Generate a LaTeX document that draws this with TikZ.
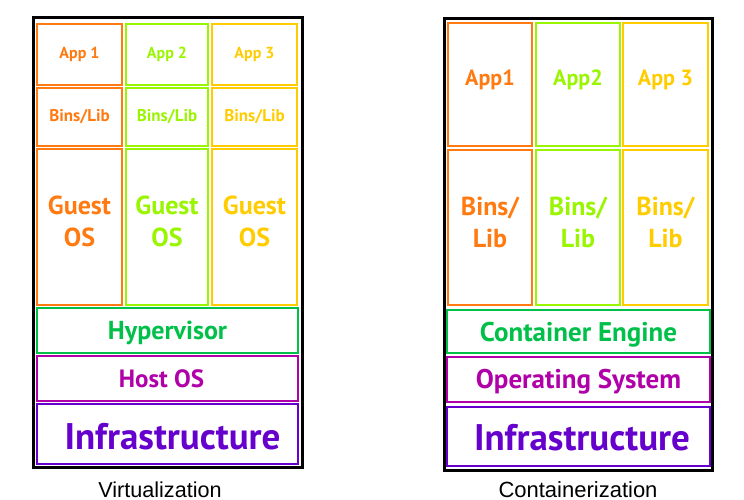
\documentclass[tikz,border=0pt]{standalone}
\usepackage{fontspec}
\setmainfont{PT Sans}
\newfontfamily\capfont{Liberation Sans}
\definecolor{cOrange}{HTML}{FF7A10}
\definecolor{cLime}{HTML}{99F500}
\definecolor{cYellow}{HTML}{FFCC00}
\definecolor{cGreen}{HTML}{00C04A}
\definecolor{cMagenta}{HTML}{B000A8}
\definecolor{cPurple}{HTML}{6600CC}
\newcommand\fsz[2]{\fontsize{#1}{#2}\selectfont}
\begin{document}
\begin{tikzpicture}[x=1pt,y=-1pt,
  outerbox/.style={draw=black,line width=3pt,inner sep=0pt,outer sep=0pt},
  layer/.style={draw=#1,text=#1,line width=2pt,inner sep=0pt,outer sep=0pt,align=center,font=\bfseries},
  caption/.style={font=\capfont\fsz{21.6}{26},anchor=base,inner sep=0pt}]
\useasboundingbox (0,0) rectangle (744,500);
% ---------- Virtualization ----------
\node[outerbox,minimum width=269pt,minimum height=449pt] (vout) at (167.5,242.5) {};
\node[layer=cOrange,minimum width=85pt,minimum height=61pt,font=\bfseries\fsz{16}{20}] (va1) at (79.5,54.5) {App 1};
\node[layer=cLime,minimum width=82pt,minimum height=61pt,font=\bfseries\fsz{16}{20}] (va2) at (167,54.5) {App 2};
\node[layer=cYellow,minimum width=85pt,minimum height=61pt,font=\bfseries\fsz{16}{20}] (va3) at (254.5,54.5) {App 3};
\node[layer=cOrange,minimum width=85pt,minimum height=58pt,font=\bfseries\fsz{17}{20}] (vb1) at (79.5,117) {Bins/Lib};
\node[layer=cLime,minimum width=82pt,minimum height=58pt,font=\bfseries\fsz{17}{20}] (vb2) at (167,117) {Bins/Lib};
\node[layer=cYellow,minimum width=85pt,minimum height=58pt,font=\bfseries\fsz{17}{20}] (vb3) at (254.5,117) {Bins/Lib};
\node[layer=cOrange,minimum width=85pt,minimum height=156pt,font=\bfseries\fsz{26}{32},text depth=12pt] (vg1) at (79.5,227) {Guest\\OS};
\node[layer=cLime,minimum width=82pt,minimum height=156pt,font=\bfseries\fsz{26}{32},text depth=12pt] (vg2) at (167,227) {Guest\\OS};
\node[layer=cYellow,minimum width=85pt,minimum height=156pt,font=\bfseries\fsz{26}{32},text depth=12pt] (vg3) at (254.5,227) {Guest\\OS};
\node[layer=cGreen,minimum width=261pt,minimum height=45pt,font=\bfseries\fsz{26}{28},text height=24pt] (vhyp) at (167.5,330.5) {Hypervisor};
\node[layer=cMagenta,minimum width=261pt,minimum height=45pt,font=\bfseries\fsz{25}{28}] (vhost) at (167.5,378.5) {Host OS\hspace*{12pt}};
\node[layer=cPurple,minimum width=261pt,minimum height=60pt,font=\bfseries\fsz{37}{40},text height=31pt] (vinf) at (167.5,434) {\hspace*{10pt}Infrastructure};
\node[caption] (vcap) at (160,497) {Virtualization};
% ---------- Containerization ----------
\node[outerbox,minimum width=268pt,minimum height=451pt] (cout) at (578,244.5) {};
\node[layer=cOrange,minimum width=84pt,minimum height=123pt,font=\bfseries\fsz{22}{26},text depth=13pt] (ca1) at (490,84.5) {App1};
\node[layer=cLime,minimum width=84pt,minimum height=123pt,font=\bfseries\fsz{22}{26},text depth=13pt] (ca2) at (578,84.5) {App2};
\node[layer=cYellow,minimum width=85pt,minimum height=123pt,font=\bfseries\fsz{22}{26},text depth=14pt] (ca3) at (665.5,84.5) {App 3};
\node[layer=cOrange,minimum width=84pt,minimum height=155pt,font=\bfseries\fsz{26}{32},text depth=10pt] (cb1) at (490,227.5) {Bins/\\Lib};
\node[layer=cLime,minimum width=84pt,minimum height=155pt,font=\bfseries\fsz{26}{32},text depth=10pt] (cb2) at (578,227.5) {Bins/\\Lib};
\node[layer=cYellow,minimum width=85pt,minimum height=155pt,font=\bfseries\fsz{26}{32},text depth=10pt] (cb3) at (665.5,227.5) {Bins/\\Lib};
\node[layer=cGreen,minimum width=263pt,minimum height=43pt,font=\bfseries\fsz{27}{28},text height=26pt] (ceng) at (578.5,331.5) {Container Engine};
\node[layer=cMagenta,minimum width=263pt,minimum height=45pt,font=\bfseries\fsz{27}{28},text height=23pt] (cos) at (578.5,379.5) {Operating System};
\node[layer=cPurple,minimum width=263pt,minimum height=59pt,font=\bfseries\fsz{37}{40},text height=28pt] (cinf) at (578.5,436.5) {\hspace*{7pt}Infrastructure};
\node[caption,font=\capfont\fsz{22}{26}] (ccap) at (578,497) {Containerization};
\end{tikzpicture}
\end{document}
